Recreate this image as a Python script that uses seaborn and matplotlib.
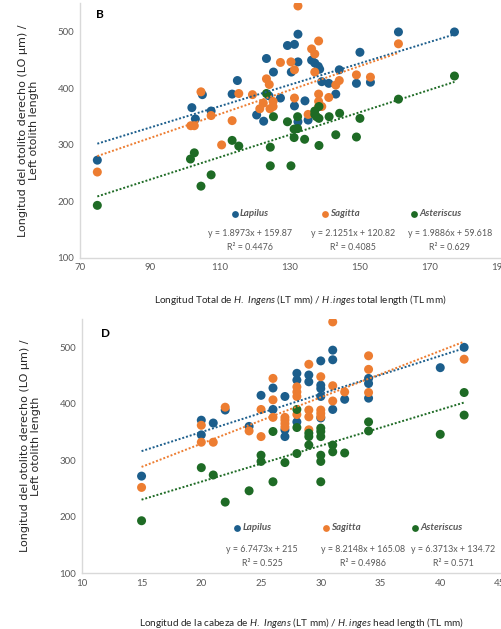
import numpy as np
import pandas as pd
import seaborn as sns
import matplotlib.pyplot as plt

# Panel B: total length (TL mm) vs otolith length (um)
lap_tl_x = [75, 102, 103, 105, 107.5, 113.5, 115, 120.5, 122.5, 123.3, 124, 125.3, 127.3, 129.3,
            131.3, 132.3, 132.3, 130.4, 131.3, 132.3, 134.3, 135.2, 136.2, 137.1, 138.1, 138.5,
            139.1, 141.1, 143.1, 144.1, 149, 150, 153, 161, 177]
lap_tl_y = [273, 366, 346, 389, 360, 390, 414, 353, 342, 453, 387, 429, 383, 476,
            478, 496, 447, 429, 369, 341, 378, 344, 450, 445, 439, 434,
            412, 409, 390, 433, 409, 464, 411, 500, 500]
sag_tl_x = [75, 101.7, 102.7, 104.6, 107.5, 110.5, 113.5, 115.4, 119.3, 121.4, 122.4, 123.3, 124.1,
            124.3, 125.2, 125.2, 127.3, 130.3, 131.3, 131.3, 132.3, 135.2, 136.2, 137.1, 137.1,
            138.2, 138.2, 138.2, 138.2, 139.1, 141.1, 143.1, 144.1, 149, 153, 161]
sag_tl_y = [252, 334, 334, 394, 352, 300, 343, 391, 389, 364, 374, 417, 407,
            364, 377, 368, 446, 447, 433, 383, 546, 354, 470, 461, 429,
            484, 390, 377, 368, 368, 384, 406, 414, 424, 420, 479]
ast_tl_x = [75, 101.6, 102.7, 104.6, 107.5, 113.5, 115.4, 123.3, 124.4, 124.4, 125.3, 129.3, 130.3,
            131.2, 131.2, 132.2, 132.2, 134.2, 137.1, 137.1, 137.6, 138.3, 138.3, 138.3, 141.2,
            143.1, 144.2, 149, 150, 161, 177]
ast_tl_y = [193, 275, 286, 227, 247, 308, 298, 391, 263, 296, 350, 341, 263,
            313, 328, 329, 350, 310, 360, 354, 350, 368, 347, 299, 350,
            318, 356, 314, 347, 381, 422]

# Panel D: head length (mm) vs otolith length (um)
lap_hl_x = [15, 20, 20, 21, 22, 24, 25, 26, 26, 27, 27, 27, 28, 28, 28, 29, 29, 30, 30, 30, 30, 30,
            31, 31, 31, 32, 34, 34, 34, 40, 42]
lap_hl_y = [272, 371, 345, 366, 389, 360, 415, 428, 390, 413, 354, 342, 454, 442, 368, 451, 439,
            476, 433, 427, 413, 375, 495, 478, 390, 408, 445, 436, 410, 464, 500]
sag_hl_x = [15, 20, 20, 21, 22, 24, 25, 25, 26, 26, 26, 27, 27, 27, 27, 28, 28, 28, 28, 29, 29, 29,
            29, 30, 30, 30, 30, 31, 31, 31, 32, 34, 34, 34, 42]
sag_hl_y = [252, 362, 332, 332, 394, 352, 390, 342, 445, 407, 376, 376, 371, 365, 359, 430, 421,
            413, 381, 470, 389, 377, 354, 448, 389, 383, 377, 545, 432, 405, 421, 485, 461, 420, 479]
ast_hl_x = [15, 20, 21, 22, 24, 25, 25, 26, 26, 27, 28, 28, 28, 29, 29, 29, 30, 30, 30, 30, 30, 30,
            31, 31, 32, 34, 34, 40, 42, 42]
ast_hl_y = [193, 287, 274, 226, 246, 309, 298, 351, 262, 296, 390, 358, 312, 348, 342, 327, 357,
            351, 342, 309, 298, 262, 327, 315, 313, 368, 352, 346, 420, 380]

species = ['Lapilus', 'Sagitta', 'Asteriscus']
colors = ['#1c5e8c', '#ed7d31', '#1e6b25']

# trendline coefficients (slope, intercept, R2) as printed on the chart
tl_slope = [1.8973, 2.1251, 1.9886]
tl_icpt = [159.87, 120.82, 59.618]
tl_r2 = ['0.4476', '0.4085', '0.629']
hl_slope = [6.7473, 8.2148, 6.3713]
hl_icpt = [215, 165.08, 134.72]
hl_r2 = ['0.525', '0.4986', '0.571']


def make_df(xs, ys):
    parts = []
    for sp, x, y in zip(species, xs, ys):
        parts.append(pd.DataFrame({'x': x, 'y': y, 'especie': sp}))
    return pd.concat(parts, ignore_index=True)


df_tl = make_df([lap_tl_x, sag_tl_x, ast_tl_x], [lap_tl_y, sag_tl_y, ast_tl_y])
df_hl = make_df([lap_hl_x, sag_hl_x, ast_hl_x], [lap_hl_y, sag_hl_y, ast_hl_y])

sns.set_style('white')
plt.rcParams['font.family'] = ['Lato', 'DejaVu Sans']
plt.rcParams['mathtext.fontset'] = 'custom'
plt.rcParams['mathtext.rm'] = 'Lato'
plt.rcParams['mathtext.it'] = 'Lato:italic'

fig = plt.figure(figsize=(5.02, 6.29), dpi=100)
ax1 = fig.add_axes([0.159, 0.590, 0.837, 0.405])
ax2 = fig.add_axes([0.163, 0.0886, 0.833, 0.405])

tick_col = '#595959'
ylab = 'Longitud del otolito derecho (LO µm) /\nLeft otolith length'


def draw_panel(ax, df, slopes, icpts, r2s, xlim, xticks, letter, letter_xy,
               leg_x, leg_y, eq_x, eq_y, r2_y):
    sns.scatterplot(data=df, x='x', y='y', hue='especie', palette=colors,
                    hue_order=species, s=42, linewidth=0, alpha=1, legend=False, ax=ax)
    # dotted linear trendlines
    for sp, col, m, b in zip(species, colors, slopes, icpts):
        sub = df[df['especie'] == sp]
        xx = np.array([sub['x'].min(), sub['x'].max()])
        ax.plot(xx, m * xx + b, linestyle=(0, (1, 1)), color=col, linewidth=1.4, zorder=1)
    ax.set_xlim(*xlim)
    ax.set_ylim(100, 551)
    ax.set_xticks(xticks)
    ax.set_yticks([100, 200, 300, 400, 500])
    ax.tick_params(length=0, labelsize=7, labelcolor=tick_col, pad=4)
    for s in ['top', 'right']:
        ax.spines[s].set_visible(False)
    for s in ['left', 'bottom']:
        ax.spines[s].set_color('#d9d9d9')
        ax.spines[s].set_linewidth(1)
    ax.set_ylabel(ylab, family='DejaVu Sans', fontsize=8, color='#262626', labelpad=13)
    ax.text(letter_xy[0], letter_xy[1], letter, fontsize=8.5, fontweight='bold', color='black')
    # legend-like labels
    for i, sp in enumerate(species):
        ax.scatter([leg_x[i]], [leg_y], s=24, color=colors[i], linewidth=0)
        ax.text(leg_x[i] + (xlim[1] - xlim[0]) * 0.012, leg_y, sp, fontsize=7,
                fontweight='bold', fontstyle='italic', color='#595959', va='center')
        ax.text(eq_x[i], eq_y, 'y = %sx + %s' % (slopes[i], icpts[i]), fontsize=6.4,
                color='#595959', ha='center', va='center')
        ax.text(eq_x[i], r2_y, 'R² = %s' % r2s[i], fontsize=6.4,
                color='#595959', ha='center', va='center')


draw_panel(ax1, df_tl, tl_slope, tl_icpt, tl_r2, (70, 190), [70, 90, 110, 130, 150, 170, 190],
           'B', (74.5, 524), [114.3, 140, 165.4], 178, [118.6, 148, 175.7], 144, 118)
draw_panel(ax2, df_hl, hl_slope, hl_icpt, hl_r2, (10, 45), [10, 15, 20, 25, 30, 35, 40, 45],
           'D', (11.6, 518), [23, 30.4, 37.9], 181, [25.1, 33.5, 41.1], 142.5, 117.7)

ax1.set_xlabel(r'Longitud Total de $\mathit{H.\ Ingens}$ (LT mm) / $\mathit{H.inges}$ total length (TL mm)',
               fontsize=7.2, color='#262626')
ax2.set_xlabel(r'Longitud de la cabeza de $\mathit{H.\ Ingens}$ (LT mm) / $\mathit{H.inges}$ head length (TL mm)',
               fontsize=7.2, color='#262626')
ax1.xaxis.set_label_coords(0.524, -0.136)
ax2.xaxis.set_label_coords(0.524, -0.166)

fig.savefig('out.png', dpi=100)
